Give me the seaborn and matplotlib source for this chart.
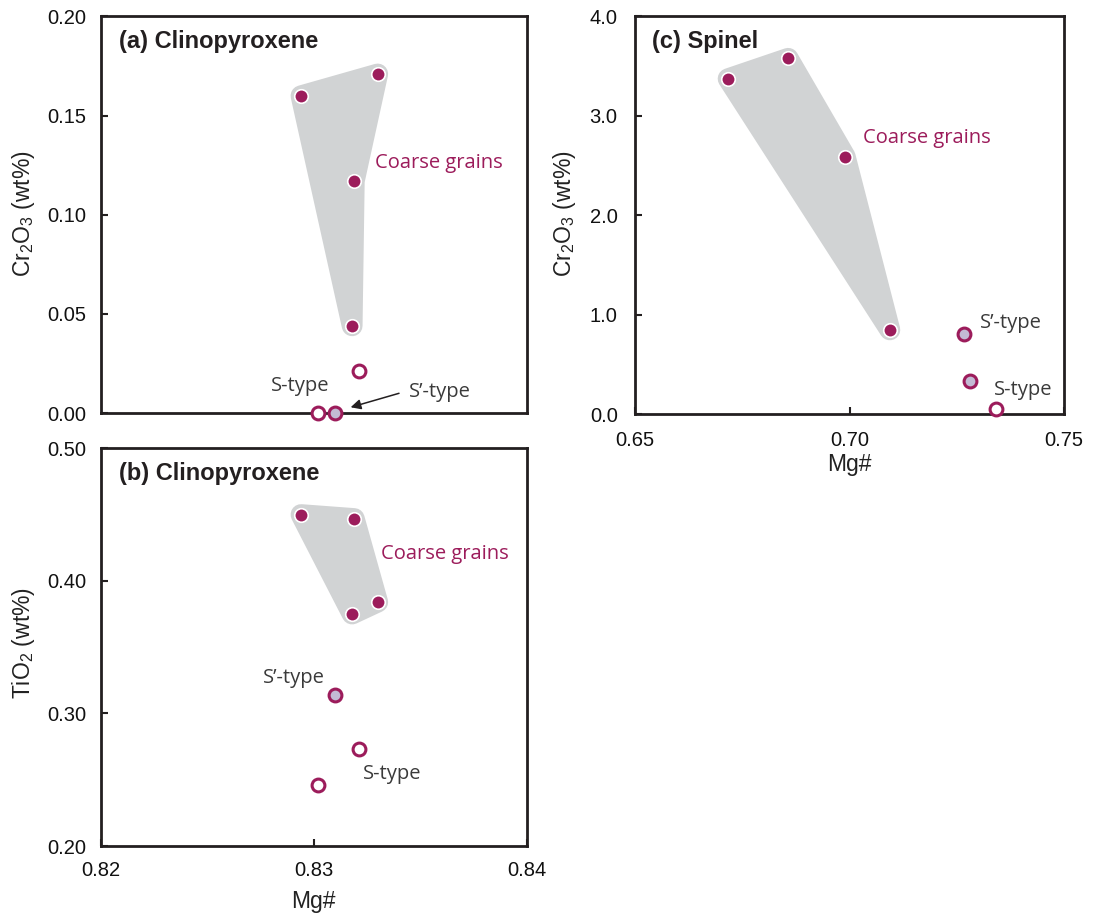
import numpy as np
import pandas as pd
import matplotlib
matplotlib.use("Agg")
import matplotlib.pyplot as plt
from matplotlib.patches import Polygon
import seaborn as sns

# ---------------- data ----------------
# Clinopyroxene (panels a, b)
cpx_coarse_mg = [0.8294, 0.8330, 0.8319, 0.8318]
cpx_coarse_cr = [0.160, 0.171, 0.117, 0.044]
cpx_coarse_ti = [0.450, 0.384, 0.447, 0.375]
cpx_s_mg = [0.8302, 0.8321]
cpx_s_cr = [0.000, 0.021]
cpx_s_ti = [0.246, 0.273]
cpx_sp_mg = [0.8310]
cpx_sp_cr = [0.000]
cpx_sp_ti = [0.314]

# Spinel (panel c)
spl_coarse_mg = [0.6717, 0.6857, 0.6990, 0.7094]
spl_coarse_cr = [3.37, 3.575, 2.588, 0.846]
spl_sp_mg = [0.7268, 0.7281]
spl_sp_cr = [0.805, 0.333]
spl_s_mg = [0.7341]
spl_s_cr = [0.055]

cpx_xticks = [0.82, 0.83, 0.84]
cr_cpx_yticks = [0.00, 0.05, 0.10, 0.15, 0.20]
ti_yticks = [0.20, 0.30, 0.40, 0.50]
spl_xticks = [0.65, 0.70, 0.75]
spl_yticks = [0.0, 1.0, 2.0, 3.0, 4.0]

# ---------------- style ----------------
sns.set_theme(style="ticks")
plt.rcParams["font.family"] = ["Liberation Sans", "DejaVu Sans"]
plt.rcParams["mathtext.fontset"] = "custom"
plt.rcParams["mathtext.rm"] = "Liberation Sans"
plt.rcParams["mathtext.it"] = "Liberation Sans"

CRIM = "#9C1C5B"
GRAY = "#D1D3D4"
LAV = "#C3BBD4"
INK = "#231F20"
TXT = "#3A3A3A"
ANN_FONT = ["Open Sans", "DejaVu Sans"]

fig = plt.figure(figsize=(10.96, 9.16), dpi=100)
ax_a = fig.add_axes([0.0919, 0.5491, 0.3888, 0.4329])
ax_b = fig.add_axes([0.0919, 0.0764, 0.3888, 0.4342])
ax_c = fig.add_axes([0.5794, 0.5480, 0.3914, 0.4345])


def style_axes(ax, pad):
    for sp in ax.spines.values():
        sp.set_visible(True)
        sp.set_linewidth(2.0)
        sp.set_color(INK)
        sp.set_zorder(2)
    ax.tick_params(direction="in", length=5, width=1.5, color=INK,
                   labelsize=14.5, labelcolor="#111111", pad=pad,
                   top=False, right=False)


def hull(ax, xs, ys):
    pts = ax.transData.transform(np.column_stack([xs, ys]))
    c = pts.mean(axis=0)
    ang = np.arctan2(pts[:, 1] - c[1], pts[:, 0] - c[0])
    order = np.argsort(-ang)
    xy = np.column_stack([xs, ys])[order]
    poly = Polygon(xy, closed=True, facecolor=GRAY, edgecolor=GRAY,
                   linewidth=15, joinstyle="round", zorder=1)
    ax.add_patch(poly)


def points(ax, xs, ys, kind):
    df = pd.DataFrame({"x": xs, "y": ys})
    if kind == "coarse":
        kw = dict(color=CRIM, edgecolor="white", linewidth=1.2, s=95)
    elif kind == "sp":
        kw = dict(color=LAV, edgecolor=CRIM, linewidth=2.2, s=85)
    else:
        kw = dict(color="white", edgecolor=CRIM, linewidth=2.2, s=85)
    sns.scatterplot(data=df, x="x", y="y", ax=ax, legend=False,
                    clip_on=False, zorder=5, **kw)


def ann(ax, x, y, s, color=TXT, ha="left"):
    ax.text(x, y, s, color=color, fontsize=14.5, family=ANN_FONT,
            ha=ha, va="center", zorder=6)


# ---------------- panel (a) ----------------
ax = ax_a
ax.set_xlim(0.82, 0.84)
ax.set_ylim(0.0, 0.20)
style_axes(ax, 10.5)
ax.set_yticks(cr_cpx_yticks)
ax.set_yticklabels([f"{v:.2f}" for v in cr_cpx_yticks])
ax.set_xticks(cpx_xticks)
ax.tick_params(axis="x", bottom=False, labelbottom=False)
hull(ax, cpx_coarse_mg, cpx_coarse_cr)
points(ax, cpx_coarse_mg, cpx_coarse_cr, "coarse")
points(ax, cpx_s_mg, cpx_s_cr, "s")
points(ax, cpx_sp_mg, cpx_sp_cr, "sp")
ax.set_xlabel("")
ax.set_ylabel(r"Cr$_2$O$_3$ (wt%)", fontsize=16.5, color="#222222")
ax.yaxis.set_label_coords(-0.182, 0.504)
ax.yaxis.label.set_va("center")
ax.text(0.042, 0.936, "(a) Clinopyroxene", transform=ax.transAxes,
        fontsize=17, fontweight="bold", color=INK, va="center")
ann(ax, 0.83286, 0.1263, "Coarse grains", color=CRIM)
ann(ax, 0.83073, 0.0138, "S-type", ha="right")
ann(ax, 0.83447, 0.0108, "S\u2019-type")
ax.annotate("", xy=(0.83173, 0.0029), xytext=(0.8340, 0.00995),
            arrowprops=dict(arrowstyle="-|>", color=INK, lw=1.1,
                            mutation_scale=15, shrinkA=0, shrinkB=0),
            zorder=6)

# ---------------- panel (b) ----------------
ax = ax_b
ax.set_xlim(0.82, 0.84)
ax.set_ylim(0.20, 0.50)
style_axes(ax, 10.5)
ax.set_yticks(ti_yticks)
ax.set_yticklabels([f"{v:.2f}" for v in ti_yticks])
ax.set_xticks(cpx_xticks)
ax.set_xticklabels([f"{v:.2f}" for v in cpx_xticks])
hull(ax, cpx_coarse_mg, cpx_coarse_ti)
points(ax, cpx_coarse_mg, cpx_coarse_ti, "coarse")
points(ax, cpx_s_mg, cpx_s_ti, "s")
points(ax, cpx_sp_mg, cpx_sp_ti, "sp")
ax.set_xlabel("Mg#", fontsize=16.5, color="#222222")
ax.xaxis.set_label_coords(0.5, -0.140)
ax.xaxis.label.set_va("center")
ax.set_ylabel(r"TiO$_2$ (wt%)", fontsize=16.5, color="#222222")
ax.yaxis.set_label_coords(-0.182, 0.51)
ax.yaxis.label.set_va("center")
ax.text(0.042, 0.937, "(b) Clinopyroxene", transform=ax.transAxes,
        fontsize=17, fontweight="bold", color=INK, va="center")
ann(ax, 0.83314, 0.4201, "Coarse grains", color=CRIM)
ann(ax, 0.83050, 0.3265, "S\u2019-type", ha="right")
ann(ax, 0.8323, 0.2543, "S-type")

# ---------------- panel (c) ----------------
ax = ax_c
ax.set_xlim(0.65, 0.75)
ax.set_ylim(0.0, 4.0)
style_axes(ax, 12.5)
ax.set_yticks(spl_yticks)
ax.set_yticklabels([f"{v:.1f}" for v in spl_yticks])
ax.set_xticks(spl_xticks)
ax.set_xticklabels([f"{v:.2f}" for v in spl_xticks])
hull(ax, spl_coarse_mg, spl_coarse_cr)
points(ax, spl_coarse_mg, spl_coarse_cr, "coarse")
points(ax, spl_sp_mg, spl_sp_cr, "sp")
points(ax, spl_s_mg, spl_s_cr, "s")
ax.set_xlabel("Mg#", fontsize=16.5, color="#222222")
ax.xaxis.set_label_coords(0.5, -0.128)
ax.xaxis.label.set_va("center")
ax.set_ylabel(r"Cr$_2$O$_3$ (wt%)", fontsize=16.5, color="#222222")
ax.yaxis.set_label_coords(-0.164, 0.504)
ax.yaxis.label.set_va("center")
ax.text(0.039, 0.935, "(c) Spinel", transform=ax.transAxes,
        fontsize=17, fontweight="bold", color=INK, va="center")
ann(ax, 0.7032, 2.771, "Coarse grains", color=CRIM)
ann(ax, 0.7303, 0.912, "S\u2019-type")
ann(ax, 0.7337, 0.241, "S-type")

fig.savefig("out.png", dpi=100)
